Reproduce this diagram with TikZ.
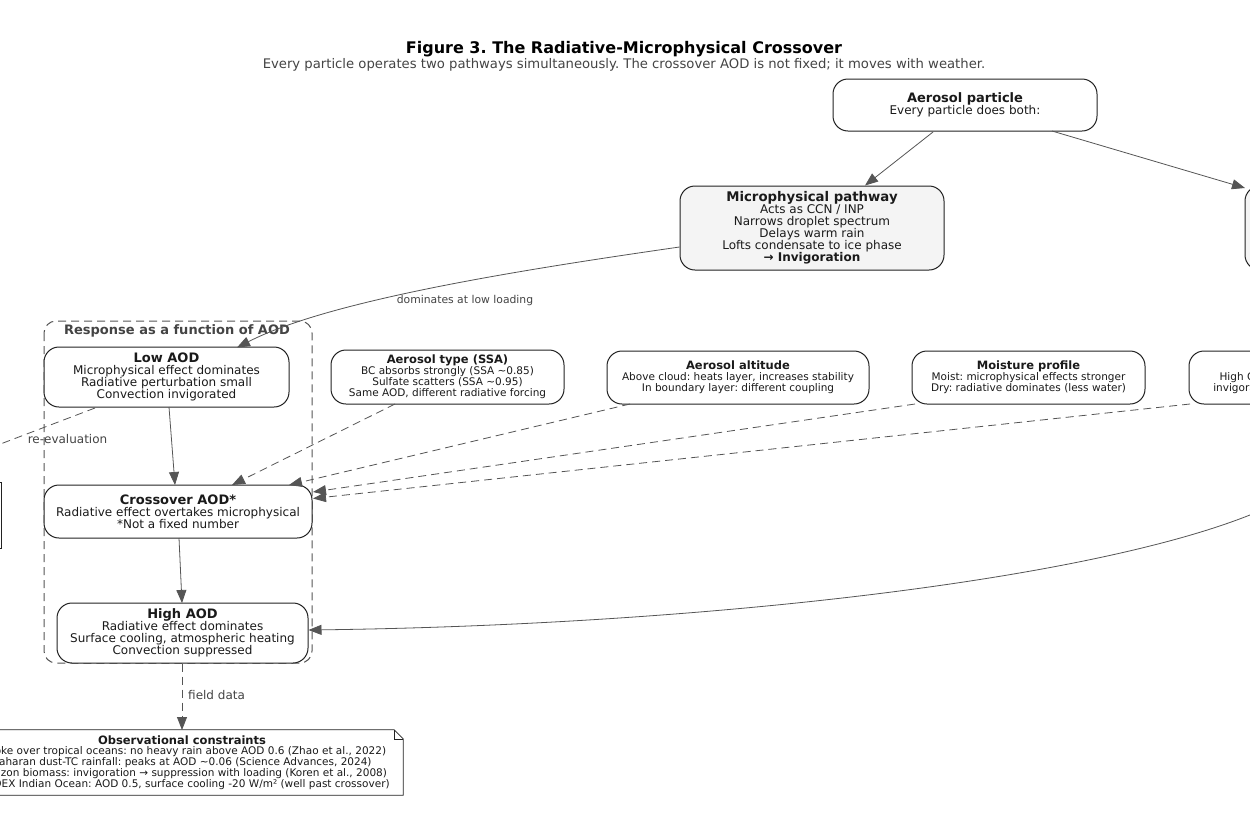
\documentclass[tikz,border=0pt]{standalone}
\usepackage{fontspec}
\setmainfont{DejaVu Sans}
\usetikzlibrary{arrows.meta}
\frenchspacing
\definecolor{bc}{HTML}{222222}
\definecolor{gc}{HTML}{555555}
\definecolor{tc}{HTML}{1A1A1A}
\definecolor{lc}{HTML}{444444}
\definecolor{mf}{HTML}{F4F4F4}
\newcommand\fsz[2]{\fontsize{#1}{#2}\selectfont}
\tikzset{
  box/.style={draw=bc, line width=1pt, rounded corners=15pt, fill=white, align=center,
    inner sep=0pt, text=tc, font=\fsz{12}{12}},
  sbox/.style={box, font=\fsz{10.5}{11}},
  arr/.style={draw=gc, line width=0.8pt, -{Triangle[length=13pt,width=10pt,fill=gc]}},
  darr/.style={arr, dash pattern=on 8pt off 5pt},
  lbl/.style={text=lc, font=\fsz{12}{12}, inner sep=1pt},
}
\begin{document}
\begin{tikzpicture}[x=1pt,y=-1pt]
\useasboundingbox (0,0) rectangle (1250,833);
\clip (0,0) rectangle (1250,833);
\fill[white] (0,0) rectangle (1250,833);

% title
\node[text=black, font=\fsz{16}{18}\bfseries] (title) at (624,49) {Figure 3. The Radiative-Microphysical Crossover};
\node[text=lc, font=\fsz{13.2}{14}] (sub) at (624,64.5) {Every particle operates two pathways simultaneously. The crossover AOD is not fixed; it moves with weather.};

% group
\draw[draw=gc, line width=1pt, dash pattern=on 8pt off 5pt, rounded corners=12pt] (44,321) rectangle (312,663);
\node[text=lc, font=\fsz{13}{14}\bfseries] (grp) at (177,330.5) {Response as a function of AOD};

% off-page left node
\draw[draw=bc, line width=1pt, fill=white] (-150,482) rectangle (1,548);
\coordinate (reeval) at (-60,467);

% nodes
\node[box, minimum width=264pt, minimum height=52pt] (ap) at (965,105)
  {{\fsz{13}{14}\bfseries Aerosol particle}\\Every particle does both:};
\node[box, fill=mf, minimum width=264pt, minimum height=84pt] (micro) at (812,228)
  {{\fsz{13.3}{13}\bfseries Microphysical pathway}\\Acts as CCN / INP\\Narrows droplet spectrum\\Delays warm rain\\Lofts condensate to ice phase\\{\bfseries → Invigoration}};
\node[box, fill=mf, minimum width=264pt, minimum height=84pt] (radp) at (1377,228) {};

\node[box, minimum width=245pt, minimum height=60pt] (low) at (166.5,377)
  {{\fsz{13}{13}\bfseries Low AOD}\\Microphysical effect dominates\\Radiative perturbation small\\Convection invigorated};
\node[sbox, minimum width=233pt, minimum height=54pt] (ssa) at (447.5,377)
  {{\fsz{11.5}{12}\bfseries Aerosol type (SSA)}\\BC absorbs strongly (SSA \textasciitilde0.85)\\Sulfate scatters (SSA \textasciitilde0.95)\\Same AOD, different radiative forcing};
\node[sbox, minimum width=262pt, minimum height=53pt] (alt) at (738,377.5)
  {{\fsz{11.5}{12}\bfseries Aerosol altitude}\\Above cloud: heats layer, increases stability\\In boundary layer: different coupling};
\node[sbox, minimum width=233pt, minimum height=53pt] (moist) at (1028.5,377.5)
  {{\fsz{11.5}{12}\bfseries Moisture profile}\\Moist: microphysical effects stronger\\Dry: radiative dominates (less water)};
\node[sbox, minimum width=233pt, minimum height=53pt] (cape) at (1305.5,377.5)
  {{\fsz{11.5}{12}\bfseries Instability}\\High CAPE: crossover shifts right\\invigoration persists at higher AOD};

\node[box, minimum width=268pt, minimum height=53pt] (cross) at (178,511.5)
  {{\fsz{13}{13}\bfseries Crossover AOD*}\\Radiative effect overtakes microphysical\\*Not a fixed number};
\node[box, minimum width=251pt, minimum height=60pt] (high) at (182.5,633)
  {{\fsz{13}{13}\bfseries High AOD}\\Radiative effect dominates\\Surface cooling, atmospheric heating\\Convection suppressed};

% observational note
\node[inner sep=0pt, minimum width=442pt, minimum height=65pt, align=center, text=tc, font=\fsz{10.5}{10.8}] (obs) at (182,762.5)
  {{\fsz{11.5}{12}\bfseries Observational constraints}\\Smoke over tropical oceans: no heavy rain above AOD 0.6 (Zhao et al., 2022)\\Saharan dust-TC rainfall: peaks at AOD \textasciitilde0.06 (Science Advances, 2024)\\Amazon biomass: invigoration → suppression with loading (Koren et al., 2008)\\INDOEX Indian Ocean: AOD 0.5, surface cooling -20 W/m² (well past crossover)};
\draw[draw=bc, line width=0.8pt] (obs.south west) -- (obs.north west) -- ([xshift=-9pt]obs.north east) -- ([yshift=-9pt]obs.north east) -- (obs.south east) -- cycle;
\draw[draw=bc, line width=0.6pt] ([xshift=-9pt]obs.north east) -- ([xshift=-9pt,yshift=-9pt]obs.north east) -- ([yshift=-9pt]obs.north east);

% connectors
\draw[arr] (933,132) -- (micro.north -| 865,0);
\draw[arr] (1052,131) -- (1245,188);
\draw[arr] (micro.west |- 0,247) .. controls (520,270) and (330,300) .. (237,347.5);
\node[lbl, font=\fsz{10.8}{11}] (l1) at (465,301) {dominates at low loading};
\draw[arr] (169,407) -- (175,485);
\draw[arr] (179,538) -- (182,603);
\draw[darr] (395,404) -- (232,485);
\draw[darr] (630,404) -- (289,485);
\draw[darr] (915,404) -- (313,492);
\draw[darr] (1190,404) -- (313,498.5);
\draw[draw=gc, line width=0.8pt, dash pattern=on 8pt off 5pt] (95,408) -- (reeval);
\node[lbl] (l2) at (67.5,439) {re-evaluation};
\coordinate (radsrc) at (1262,510);
\draw[arr] (radsrc) .. controls (1100,580) and (700,625) .. (308.5,630);
\draw[darr] (182,663.5) -- (182,730);
\node[lbl, anchor=west] (l3) at (187,695.5) {field data};
\end{tikzpicture}
\end{document}
